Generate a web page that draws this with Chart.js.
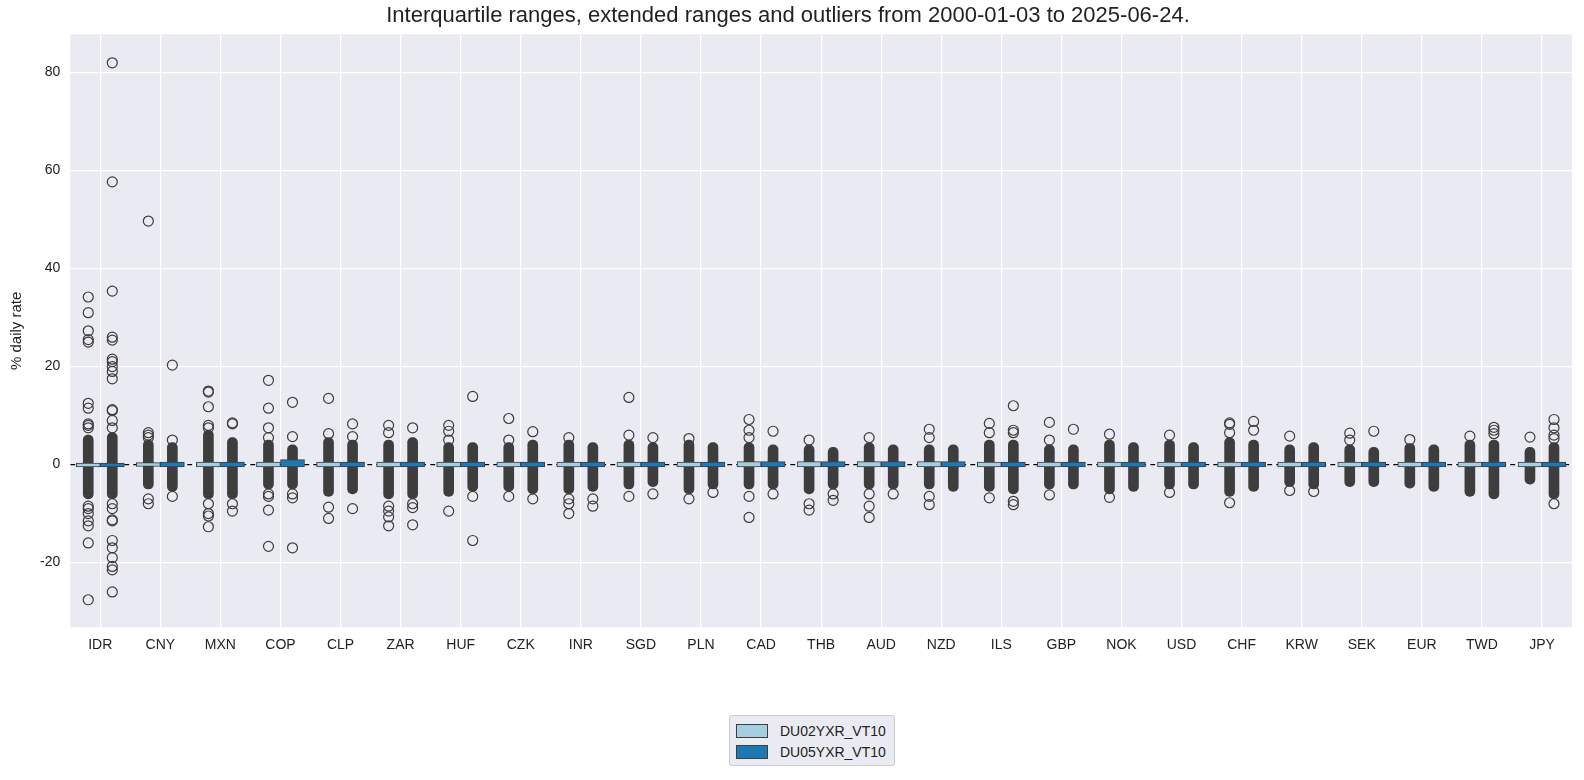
<!DOCTYPE html>
<html><head><meta charset="utf-8">
<script src="https://cdn.jsdelivr.net/npm/chart.js@4/dist/chart.umd.min.js"></script>
<style>
body{margin:0;background:#fff;font-family:"Liberation Sans",Arial,sans-serif;}
#wrap{position:absolute;left:0;top:0;width:1584px;height:664px;}
#legend{position:absolute;left:729px;top:715px;border:1px solid #ccc;border-radius:3px;background:#eaeaf2;padding:4px 8px 3px 6px;font-size:14px;color:#222;}
.li{display:flex;align-items:center;height:21px;}
.sw{width:30px;height:12px;border:1px solid #3d3d3d;margin-right:12px;}
</style></head><body>
<div id="wrap"><canvas id="c"></canvas></div>
<div id="legend"></div>
<script>
const categories=["IDR","CNY","MXN","COP","CLP","ZAR","HUF","CZK","INR","SGD","PLN","CAD","THB","AUD","NZD","ILS","GBP","NOK","USD","CHF","KRW","SEK","EUR","TWD","JPY"];
const seriesNames=["DU02YXR_VT10","DU05YXR_VT10"];
// interquartile ranges [q1,q3]
const boxA=[[-0.5,0.3],[-0.4,0.4],[-0.5,0.5],[-0.5,0.5],[-0.5,0.5],[-0.5,0.5],[-0.5,0.5],[-0.5,0.5],[-0.5,0.5],[-0.5,0.5],[-0.5,0.5],[-0.5,0.6],[-0.5,0.6],[-0.5,0.6],[-0.5,0.6],[-0.5,0.5],[-0.5,0.5],[-0.5,0.5],[-0.5,0.5],[-0.5,0.5],[-0.5,0.5],[-0.5,0.5],[-0.5,0.5],[-0.5,0.5],[-0.5,0.5]];
const boxB=[[-0.5,0.3],[-0.5,0.5],[-0.5,0.5],[-0.5,1.0],[-0.5,0.5],[-0.5,0.5],[-0.5,0.5],[-0.5,0.5],[-0.5,0.5],[-0.5,0.5],[-0.5,0.5],[-0.5,0.6],[-0.5,0.6],[-0.5,0.6],[-0.5,0.6],[-0.5,0.5],[-0.5,0.5],[-0.5,0.5],[-0.5,0.5],[-0.5,0.5],[-0.5,0.5],[-0.5,0.5],[-0.5,0.5],[-0.5,0.5],[-0.5,0.5]];
// dense overlapping-outlier bands [low,high]
const denseA=[[-7,6],[-5,5],[-7,7],[-5,5],[-6.5,5.5],[-7,5],[-6.5,4.5],[-5.5,4.5],[-6,5],[-5,5],[-6,5],[-5,4.5],[-6,4],[-5,4.5],[-5,4],[-5.5,5],[-5,4],[-6,5],[-5,5],[-6.5,5.5],[-4.5,4],[-4.5,4],[-4.8,4.3],[-6.5,5],[-4,3.5]];
const denseB=[[-7,6.5],[-5.5,4.5],[-7,5.5],[-5,4],[-6,5],[-7,5.5],[-5.5,4.5],[-6,5],[-5.5,4.5],[-4.5,4.5],[-5,4.5],[-5,4],[-5,3.5],[-5,4],[-5.5,4],[-6,5],[-5,4],[-5.5,4.5],[-5,4.5],[-5.5,5],[-5,4.5],[-4.5,3.5],[-5.5,4],[-7,5],[-7,4.5]];
// isolated outliers
const outA=[[34.2,31,27.3,25.5,25,12.5,11.5,8.3,8,7.5,-8.5,-9,-10,-11.5,-12.5,-16,-27.6],[49.7,6.5,6,5.5,-7,-8],[15,14.8,11.8,8,7.5,-8,-10,-10.5,-12.7],[17.2,11.5,7.5,5.5,-6,-6.5,-9.3,-16.7],[13.5,6.3,-8.7,-11],[8,6.5,-8.5,-9.5,-10.7,-12.5],[8,6.8,5,-9.5],[9.4,5,-6.5],[5.5,-7,-8,-10],[13.7,6,-6.5],[5.3,-7],[9.2,7,5.5,-6.5,-10.8],[5,-8,-9.3],[5.5,-6,-8.5,-10.8],[7.2,5.5,-6.5,-8.2],[8.4,6.5,-6.8],[8.6,5,-6.2],[6.2,-6.7],[6,-5.7],[8.5,8.2,6.5,-7.8],[5.8,-5.3],[6.4,5],[5.1],[5.8],[5.6]];
const outB=[[82,57.7,35.4,26,25.4,21.5,21,20,19,17.5,11.2,11,9,7.5,-8,-9,-11.3,-11.5,-15.5,-17,-19,-20.8,-21.5,-26],[20.3,5,-6.5],[8.5,8.3,-8,-9.5],[12.7,5.7,-6,-6.8,-17],[8.3,5.7,-9],[7.5,-8,-8.8,-12.3],[13.9,-6.5,-15.5],[6.7,-7],[-7,-8.5],[5.5,-6],[-5.7],[6.8,-6],[-6,-7.3],[-6],[],[12,7,6.5,-7.5,-8.2],[7.2],[],[],[8.8,7],[-5.5],[6.8],[],[7.6,7,6.3],[9.2,7.5,6,5.3,-8]];
const yTicks=[-20,0,20,40,60,80];

const DK='#3d3d3d', OFF=0.2, FONT='"Liberation Sans", Arial, sans-serif';
const pts=(arr,off)=>arr.flatMap((vals,i)=>vals.map(v=>({x:i+off,y:v})));
const rng=(arr,off)=>arr.map((r,i)=>({x:i+off,y:r}));
const datasets=[
 {type:'bar',data:rng(denseA,-OFF),backgroundColor:DK,barThickness:10,grouped:false,order:5,borderRadius:5,borderSkipped:false},
 {type:'bar',data:rng(denseB,OFF),backgroundColor:DK,barThickness:10,grouped:false,order:5,borderRadius:5,borderSkipped:false},
 {type:'line',data:[{x:-0.5,y:0},{x:24.5,y:0}],borderColor:'#000',borderWidth:1.3,borderDash:[5,4],pointRadius:0,order:4},
 {type:'bar',label:seriesNames[0],data:rng(boxA,-OFF),backgroundColor:'#a6cee3',borderColor:DK,borderWidth:1,barThickness:24,grouped:false,order:3,borderSkipped:false},
 {type:'bar',label:seriesNames[1],data:rng(boxB,OFF),backgroundColor:'#1f78b4',borderColor:DK,borderWidth:1,barThickness:24,grouped:false,order:3,borderSkipped:false},
 {type:'scatter',data:pts(outA,-OFF),pointRadius:5,pointBorderColor:DK,pointBackgroundColor:'rgba(0,0,0,0)',pointBorderWidth:1.2,order:1},
 {type:'scatter',data:pts(outB,OFF),pointRadius:5,pointBorderColor:DK,pointBackgroundColor:'rgba(0,0,0,0)',pointBorderWidth:1.2,order:1}
];
const bgPlugin={id:'bg',beforeDraw(c){const a=c.chartArea,x=c.ctx;x.save();x.fillStyle='#eaeaf2';x.fillRect(a.left,a.top,a.right-a.left,a.bottom-a.top);x.restore();}};
new Chart(document.getElementById('c'),{
 data:{datasets},
 options:{responsive:true,maintainAspectRatio:false,animation:false,
  layout:{padding:{left:4,right:12,top:0,bottom:0}},
  plugins:{legend:{display:false},tooltip:{enabled:false},
   title:{display:true,text:'Interquartile ranges, extended ranges and outliers from 2000-01-03 to 2025-06-24.',color:'#222',font:{size:22,family:FONT,weight:'normal'},padding:{top:3,bottom:5}}},
  scales:{
   x:{type:'linear',min:-0.5,max:24.5,offset:false,grid:{color:'#fff',lineWidth:1.2,drawTicks:false,offset:false},border:{display:false},
      afterBuildTicks(s){s.ticks=categories.map((_,i)=>({value:i}));},
      ticks:{autoSkip:false,maxRotation:0,padding:10,color:'#222',font:{size:14,family:FONT},callback:(v)=>categories[v]}},
   y:{min:-33.2,max:87.8,grid:{color:'#fff',lineWidth:1.2,drawTicks:false},border:{display:false},
      afterBuildTicks(s){s.ticks=yTicks.map(v=>({value:v}));},
      ticks:{padding:10,color:'#222',font:{size:14,family:FONT}},
      title:{display:true,text:'% daily rate',color:'#222',font:{size:15,family:FONT},padding:{bottom:4}}}
  }},
 plugins:[bgPlugin]
});
document.getElementById('legend').innerHTML=seriesNames.map((n,i)=>`<div class="li"><div class="sw" style="background:${['#a6cee3','#1f78b4'][i]}"></div>${n}</div>`).join('');
</script></body></html>
